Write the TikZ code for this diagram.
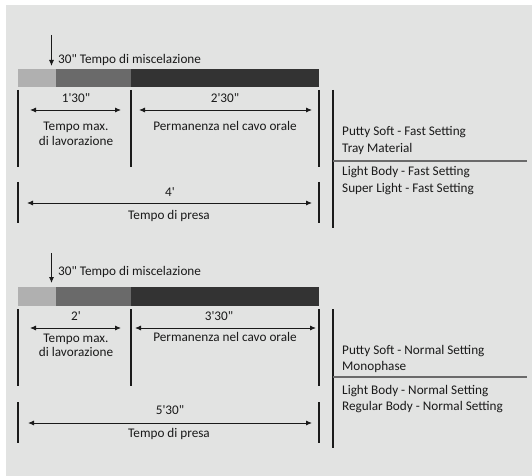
\documentclass[tikz,border=0pt]{standalone}
\usepackage{fontspec}
\setmainfont{Carlito}[Ligatures=TeXOff]
\usetikzlibrary{arrows.meta}
\definecolor{bg}{HTML}{E2E3E2}
\definecolor{barA}{HTML}{B0B0B0}
\definecolor{barB}{HTML}{6A6A6A}
\definecolor{barC}{HTML}{333333}
\definecolor{ink}{HTML}{1A1A1A}
\tikzset{
  lbl/.style={inner sep=0pt, anchor=mid, font=\fontsize{13.2bp}{15bp}\selectfont, text=ink},
  rlbl/.style={lbl, anchor=mid west},
  tick/.style={draw=ink, line width=1.4bp},
  dim/.style={draw=ink, line width=0.9bp, {Latex[length=6bp,width=5bp]}-{Latex[length=6bp,width=5bp]}},
  down/.style={draw=ink, line width=0.9bp, -{Latex[length=6bp,width=5bp]}},
  sep/.style={draw=barB, line width=1.2bp}
}
\begin{document}
\begin{tikzpicture}[x=1bp,y=-1bp]
\useasboundingbox (0,0) rectangle (532,476);
\fill[bg] (6,5) rectangle (532,476);

% ---------- top panel ----------
\coordinate (t-as) at (51.5,35);
\coordinate (t-ae) at (51.5,66);
\draw[down] (t-as) -- (t-ae);
\node[rlbl] (t-mix) at (58,61) {30" Tempo di miscelazione};
\fill[barA] (18,69) rectangle (56,87);
\fill[barB] (56,69) rectangle (131,87);
\fill[barC] (131,69) rectangle (319,87);
\foreach \x/\n in {18/a,131/b,319/c}{
  \coordinate (t-\n1) at (\x,90); \coordinate (t-\n2) at (\x,167);
  \draw[tick] (t-\n1) -- (t-\n2);
}
\coordinate (t-r1) at (333,90); \coordinate (t-r2) at (333,228);
\draw[tick] (t-r1) -- (t-r2);
\foreach \x/\n in {18/a,319/c}{
  \coordinate (t-\n3) at (\x,182); \coordinate (t-\n4) at (\x,223);
  \draw[tick] (t-\n3) -- (t-\n4);
}
\coordinate (t-d1s) at (30,110); \coordinate (t-d1e) at (121,110);
\draw[dim] (t-d1s) -- (t-d1e);
\coordinate (t-d2s) at (139,110); \coordinate (t-d2e) at (312,110);
\draw[dim] (t-d2s) -- (t-d2e);
\coordinate (t-d3s) at (27,203); \coordinate (t-d3e) at (312,203);
\draw[dim] (t-d3s) -- (t-d3e);
\node[lbl] (t-l1) at (76,100) {1'30"};
\node[lbl] (t-l2) at (76,128) {Tempo max.};
\node[lbl] (t-l3) at (76,143) {di lavorazione};
\node[lbl] (t-l4) at (225,100) {2'30"};
\node[lbl] (t-l5) at (225,128) {Permanenza nel cavo orale};
\node[lbl] (t-l6) at (170,194) {4'};
\node[lbl] (t-l7) at (169,217) {Tempo di presa};
\node[rlbl] (t-p1) at (342,133) {Putty Soft - Fast Setting};
\node[rlbl] (t-p2) at (342,150) {Tray Material};
\coordinate (t-s1) at (333,161); \coordinate (t-s2) at (527,161);
\draw[sep] (t-s1) -- (t-s2);
\node[rlbl] (t-p3) at (342,173) {Light Body - Fast Setting};
\node[rlbl] (t-p4) at (342,190) {Super Light - Fast Setting};

% ---------- bottom panel ----------
\coordinate (b-as) at (51.5,253);
\coordinate (b-ae) at (51.5,283);
\draw[down] (b-as) -- (b-ae);
\node[rlbl] (b-mix) at (58,273) {30" Tempo di miscelazione};
\fill[barA] (18,287) rectangle (56,306);
\fill[barB] (56,287) rectangle (131,306);
\fill[barC] (131,287) rectangle (319,306);
\foreach \x/\n in {18/a,131/b,319/c}{
  \coordinate (b-\n1) at (\x,309); \coordinate (b-\n2) at (\x,386);
  \draw[tick] (b-\n1) -- (b-\n2);
}
\coordinate (b-r1) at (333,309); \coordinate (b-r2) at (333,448);
\draw[tick] (b-r1) -- (b-r2);
\foreach \x/\n in {18/a,319/c}{
  \coordinate (b-\n3) at (\x,402); \coordinate (b-\n4) at (\x,443);
  \draw[tick] (b-\n3) -- (b-\n4);
}
\coordinate (b-d1s) at (30,328); \coordinate (b-d1e) at (121,328);
\draw[dim] (b-d1s) -- (b-d1e);
\coordinate (b-d2s) at (135,328); \coordinate (b-d2e) at (316,328);
\draw[dim] (b-d2s) -- (b-d2e);
\coordinate (b-d3s) at (28,423); \coordinate (b-d3e) at (312,423);
\draw[dim] (b-d3s) -- (b-d3e);
\node[lbl] (b-l1) at (76,318) {2'};
\node[lbl] (b-l2) at (76,340) {Tempo max.};
\node[lbl] (b-l3) at (76,354) {di lavorazione};
\node[lbl] (b-l4) at (219,318) {3'30"};
\node[lbl] (b-l5) at (225,339) {Permanenza nel cavo orale};
\node[lbl] (b-l6) at (170,412) {5'30"};
\node[lbl] (b-l7) at (169,435) {Tempo di presa};
\node[rlbl] (b-p1) at (342,352) {Putty Soft - Normal Setting};
\node[rlbl] (b-p2) at (342,368) {Monophase};
\coordinate (b-s1) at (333,377); \coordinate (b-s2) at (527,377);
\draw[sep] (b-s1) -- (b-s2);
\node[rlbl] (b-p3) at (342,392) {Light Body - Normal Setting};
\node[rlbl] (b-p4) at (342,408) {Regular Body - Normal Setting};
\end{tikzpicture}
\end{document}
